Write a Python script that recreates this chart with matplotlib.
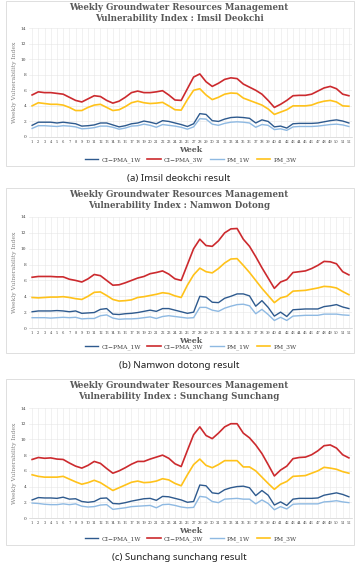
import numpy as np
import matplotlib
matplotlib.use('Agg')
from matplotlib import pyplot as plt
from matplotlib.patches import Rectangle

weeks = np.arange(1, 53)
series_names = ['CI\u2212PMA_1W', 'CI\u2212PMA_3W', 'PM_1W', 'PM_3W']
series_colors = ['#2E5A8E', '#CC2A2E', '#8EB9E2', '#FFC21A']

titles = ['Imsil Deokchi', 'Namwon Dotong', 'Sunchang Sunchang']
captions = ['(a) Imsil deokchi result', '(b) Namwon dotong result', '(c) Sunchang sunchang result']

# (a) Imsil Deokchi
imsil_ci_1w = [1.5, 1.9, 1.9, 1.9, 1.8, 1.9, 1.8, 1.7, 1.4, 1.45, 1.55, 1.8, 1.8, 1.55, 1.3, 1.45, 1.7, 1.8,
               2.05, 1.9, 1.7, 2.1, 2.0, 1.8, 1.6, 1.35, 1.7, 3.0, 2.9, 2.1, 2.0, 2.3, 2.5, 2.55, 2.5, 2.4,
               1.8, 2.2, 2.0, 1.3, 1.4, 1.15, 1.7, 1.75, 1.75, 1.75, 1.8, 1.95, 2.1, 2.2, 2.05, 1.8]
imsil_ci_3w = [5.4, 5.8, 5.7, 5.7, 5.6, 5.5, 5.1, 4.7, 4.5, 4.9, 5.3, 5.2, 4.7, 4.35, 4.6, 5.1, 5.7, 5.9,
               5.7, 5.7, 5.8, 5.95, 5.4, 4.75, 4.7, 6.2, 7.7, 8.1, 7.1, 6.5, 6.9, 7.4, 7.6, 7.5, 6.8, 6.4,
               6.0, 5.5, 4.7, 3.8, 4.2, 4.7, 5.3, 5.35, 5.35, 5.5, 5.9, 6.3, 6.5, 6.2, 5.5, 5.3]
imsil_pm_1w = [1.1, 1.45, 1.45, 1.4, 1.35, 1.45, 1.4, 1.3, 1.05, 1.1, 1.2, 1.4, 1.4, 1.25, 1.0, 1.15, 1.4,
               1.45, 1.65, 1.5, 1.25, 1.6, 1.5, 1.4, 1.25, 1.0, 1.3, 2.35, 2.3, 1.65, 1.5, 1.75, 1.9, 1.95,
               1.9, 1.8, 1.25, 1.6, 1.5, 0.95, 1.05, 0.85, 1.3, 1.35, 1.35, 1.35, 1.4, 1.5, 1.6, 1.65, 1.55,
               1.35]
imsil_pm_3w = [4.0, 4.4, 4.3, 4.2, 4.2, 4.1, 3.8, 3.4, 3.4, 3.8, 4.1, 4.2, 3.8, 3.4, 3.5, 3.9, 4.4, 4.6,
               4.4, 4.3, 4.35, 4.45, 4.0, 3.5, 3.45, 4.8, 6.0, 6.2, 5.4, 4.8, 5.1, 5.5, 5.65, 5.6, 5.0, 4.7,
               4.4, 4.1, 3.6, 2.9, 3.2, 3.5, 4.0, 4.0, 4.0, 4.1, 4.4, 4.6, 4.7, 4.5, 4.0, 3.95]

# (b) Namwon Dotong
namwon_ci_1w = [2.05, 2.15, 2.15, 2.15, 2.2, 2.15, 2.05, 2.15, 1.85, 1.9, 1.95, 2.35, 2.45, 1.75, 1.7, 1.8,
                1.85, 1.95, 2.1, 2.25, 2.1, 2.45, 2.45, 2.25, 2.05, 1.85, 2.0, 4.0, 3.9, 3.25, 3.2, 3.75, 4.0,
                4.3, 4.3, 4.05, 2.75, 3.45, 2.6, 1.5, 2.0, 1.45, 2.3, 2.35, 2.4, 2.4, 2.4, 2.7, 2.8, 2.95,
                2.65, 2.45]
namwon_ci_3w = [6.4, 6.5, 6.5, 6.5, 6.45, 6.45, 6.15, 6.0, 5.8, 6.2, 6.75, 6.6, 6.0, 5.4, 5.45, 5.7, 6.0,
                6.3, 6.5, 6.85, 7.0, 7.2, 6.8, 6.2, 6.0, 8.0, 10.0, 11.2, 10.4, 10.3, 11.0, 12.0, 12.5, 12.55,
                11.2, 10.3, 9.0, 7.6, 6.3, 5.0, 5.8, 6.1, 7.0, 7.1, 7.2, 7.5, 7.9, 8.4, 8.35, 8.1, 7.1, 6.7]
namwon_pm_1w = [1.3, 1.3, 1.3, 1.25, 1.3, 1.35, 1.3, 1.35, 1.15, 1.2, 1.2, 1.55, 1.65, 1.25, 1.1, 1.15,
                1.15, 1.2, 1.3, 1.4, 1.2, 1.45, 1.55, 1.45, 1.35, 1.25, 1.3, 2.6, 2.6, 2.25, 2.1, 2.5, 2.75,
                2.95, 3.0, 2.8, 1.8, 2.35, 1.7, 0.95, 1.35, 0.95, 1.5, 1.55, 1.6, 1.6, 1.6, 1.75, 1.75, 1.75,
                1.65, 1.6]
namwon_pm_3w = [3.85, 3.8, 3.85, 3.9, 3.9, 3.95, 3.85, 3.7, 3.6, 4.0, 4.5, 4.55, 4.1, 3.6, 3.4, 3.45, 3.55,
                3.85, 3.95, 4.1, 4.25, 4.45, 4.35, 4.05, 3.85, 5.4, 6.7, 7.55, 7.1, 6.95, 7.5, 8.2, 8.7, 8.75,
                7.9, 7.0, 6.0, 5.0, 4.1, 3.2, 3.8, 4.0, 4.65, 4.7, 4.75, 4.9, 5.05, 5.25, 5.2, 5.05, 4.6, 4.2]

# (c) Sunchang Sunchang
sunchang_ci_1w = [2.3, 2.6, 2.55, 2.55, 2.5, 2.65, 2.4, 2.45, 2.1, 2.0, 2.1, 2.5, 2.55, 1.85, 1.8, 1.95,
                  2.15, 2.3, 2.45, 2.5, 2.25, 2.75, 2.7, 2.5, 2.3, 2.0, 2.1, 4.2, 4.1, 3.2, 3.1, 3.6, 3.85,
                  4.0, 4.05, 3.85, 2.85, 3.5, 2.9, 1.65, 2.05, 1.6, 2.4, 2.5, 2.5, 2.5, 2.55, 2.9, 3.05, 3.2,
                  3.0, 2.7]
sunchang_ci_3w = [7.45, 7.7, 7.6, 7.65, 7.5, 7.45, 7.0, 6.6, 6.35, 6.7, 7.2, 6.95, 6.3, 5.7, 6.0, 6.4, 6.85,
                  7.2, 7.2, 7.5, 7.75, 8.0, 7.6, 6.9, 6.55, 8.6, 10.6, 11.6, 10.5, 10.1, 10.8, 11.6, 12.0,
                  12.0, 10.8, 10.2, 9.3, 8.2, 6.8, 5.35, 6.1, 6.6, 7.55, 7.7, 7.75, 8.05, 8.55, 9.2, 9.3, 8.9,
                  8.05, 7.65]
sunchang_pm_1w = [1.9, 1.85, 1.75, 1.7, 1.7, 1.8, 1.7, 1.8, 1.5, 1.4, 1.45, 1.65, 1.7, 1.1, 1.2, 1.3, 1.45,
                  1.5, 1.55, 1.6, 1.3, 1.7, 1.75, 1.6, 1.4, 1.3, 1.35, 2.75, 2.65, 2.1, 1.95, 2.4, 2.45, 2.5,
                  2.4, 2.4, 1.8, 2.3, 1.85, 1.05, 1.45, 1.15, 1.75, 1.8, 1.8, 1.8, 1.8, 2.05, 2.1, 2.2, 2.05,
                  1.95]
sunchang_pm_3w = [5.5, 5.3, 5.2, 5.2, 5.2, 5.3, 4.95, 4.6, 4.3, 4.5, 4.8, 4.5, 4.0, 3.5, 3.85, 4.2, 4.55,
                  4.7, 4.5, 4.55, 4.7, 5.0, 4.85, 4.4, 4.1, 5.5, 6.8, 7.5, 6.7, 6.4, 6.8, 7.3, 7.3, 7.3, 6.5,
                  6.5, 6.0, 5.2, 4.4, 3.65, 4.3, 4.65, 5.3, 5.35, 5.4, 5.7, 6.0, 6.45, 6.35, 6.2, 5.9, 5.7]

panel_data = [
    [imsil_ci_1w, imsil_ci_3w, imsil_pm_1w, imsil_pm_3w],
    [namwon_ci_1w, namwon_ci_3w, namwon_pm_1w, namwon_pm_3w],
    [sunchang_ci_1w, sunchang_ci_3w, sunchang_pm_1w, sunchang_pm_3w],
]

W, H = 358, 564
fig = plt.figure(figsize=(W / 100, H / 100), dpi=100)
fig.patch.set_facecolor('white')

serif = ['DejaVu Serif']
# pixel layout of each panel: (box top, box bottom, plot top, plot bottom)
layout = [(1, 166, 28, 137), (188, 353, 217, 328), (379, 545, 408, 518)]
plot_left, plot_right = 29, 352

for p in range(3):
    box_top, box_bot, top, bot = layout[p]
    fig.patches.append(Rectangle((6 / W, 1 - box_bot / H), 348 / W, (box_bot - box_top) / H,
                                 transform=fig.transFigure, fill=False, edgecolor='#d9d9d9', linewidth=0.6))
    ax = fig.add_axes([plot_left / W, 1 - bot / H, (plot_right - plot_left) / W, (bot - top) / H])
    for k in range(4):
        lw = 1.2 if k % 2 == 1 else 1.0
        ax.plot(weeks, panel_data[p][k], color=series_colors[k], linewidth=lw, label=series_names[k],
                solid_joinstyle='round')
    ax.set_xlim(0.5, 52.5)
    ax.set_ylim(0, 14)
    ax.set_yticks(range(0, 15, 2))
    ax.set_xticks(weeks)
    ax.set_xticklabels([str(w) for w in weeks], fontsize=2.6, family=serif, color='#404040')
    ax.set_yticklabels([str(v) for v in range(0, 15, 2)], fontsize=3.2, family=serif, color='#404040')
    ax.tick_params(length=0, pad=2)
    ax.grid(True, color='#e6e6e6', linewidth=0.4)
    ax.set_axisbelow(True)
    for s in ['top', 'right', 'left']:
        ax.spines[s].set_visible(False)
    ax.spines['bottom'].set_color('#d0d0d0')
    ax.spines['bottom'].set_linewidth(0.5)
    ax.set_ylabel('Weekly Vulnerability Index', fontsize=4.3, family=serif, color='#808080', labelpad=3)
    ax.set_xlabel('Week', fontsize=5.5, family=serif, fontweight='bold', color='#595959', labelpad=1.5)

    fig.text(0.5, 1 - (box_top + 12) / H,
             'Weekly Groundwater Resources Management\nVulnerability Index : ' + titles[p],
             ha='center', va='center', fontsize=6.2, family=serif, fontweight='bold', color='#595959',
             linespacing=1.25)
    ax.legend(loc='center', bbox_to_anchor=(0.5, -(box_bot - 6 - bot) / (bot - top)), ncol=4,
              frameon=False, prop={'family': serif, 'size': 4.3}, handlelength=2.3,
              columnspacing=1.1, handletextpad=0.5, labelcolor='#404040')
    fig.text(0.5, 1 - (box_bot + 12) / H, captions[p], ha='center', va='center', fontsize=7,
             family='Noto Sans', color='#222222')

plt.savefig('out.png', dpi=100)
